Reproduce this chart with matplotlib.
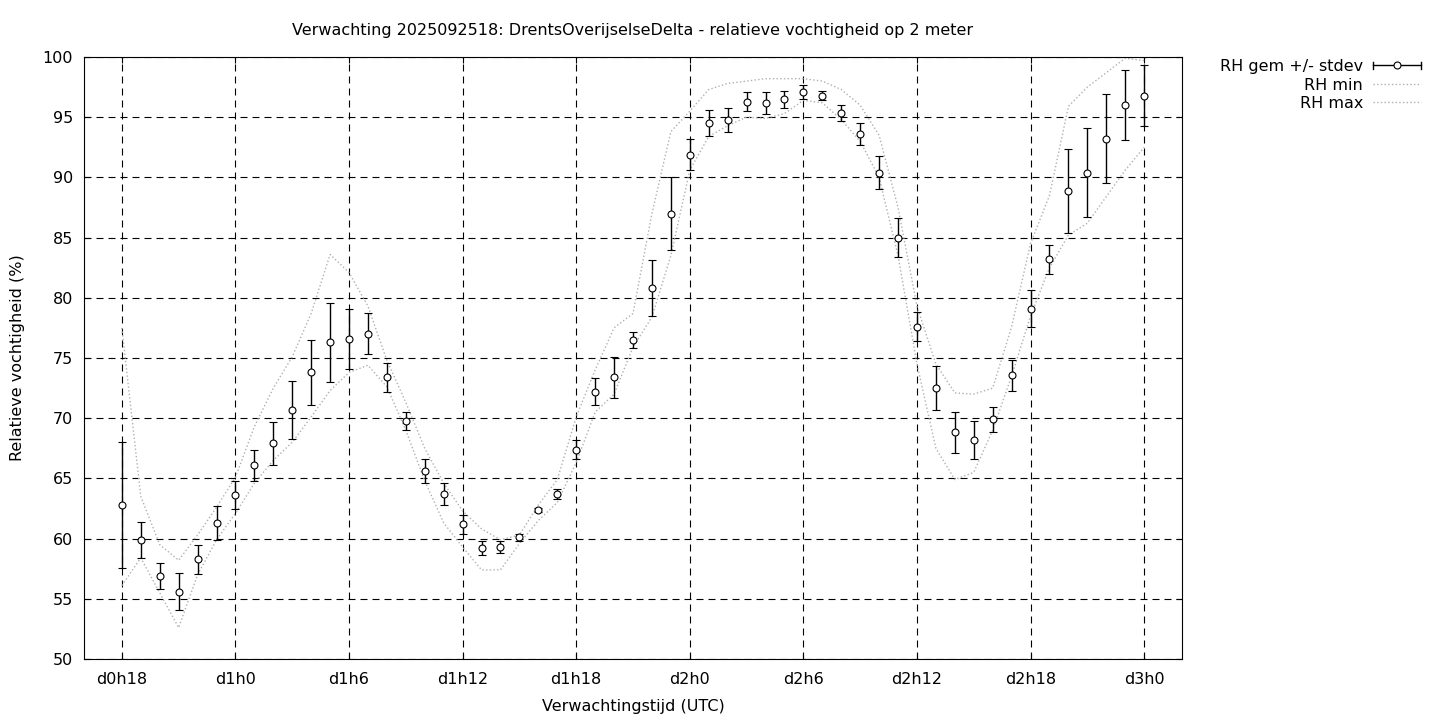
import matplotlib
matplotlib.use("Agg")
import matplotlib.pyplot as plt
from matplotlib.lines import Line2D
from matplotlib.legend_handler import HandlerBase

# ---- data (hours since forecast start) ----
hours = list(range(18, 73))
rh_mean = [62.8, 59.9, 56.9, 55.6, 58.3, 61.3, 63.6, 66.1, 67.9, 70.7,
           73.8, 76.3, 76.6, 77.0, 73.4, 69.8, 65.6, 63.7, 61.2, 59.2,
           59.3, 60.1, 62.4, 63.7, 67.4, 72.2, 73.4, 76.5, 80.8, 87.0,
           91.9, 94.5, 94.8, 96.3, 96.2, 96.5, 97.1, 96.8, 95.35, 93.6,
           90.4, 85.0, 77.6, 72.5, 68.85, 68.2, 69.9, 73.55, 79.1, 83.2,
           88.85, 90.4, 93.2, 96.0, 96.8]
rh_std = [5.25, 1.5, 1.05, 1.55, 1.2, 1.4, 1.15, 1.3, 1.8, 2.4,
          2.7, 3.3, 2.5, 1.7, 1.2, 0.75, 1.0, 0.9, 0.8, 0.6,
          0.5, 0.3, 0.15, 0.4, 0.75, 1.1, 1.7, 0.7, 2.3, 3.0,
          1.3, 1.1, 1.0, 0.8, 0.9, 0.7, 0.6, 0.35, 0.7, 0.9,
          1.4, 1.6, 1.2, 1.85, 1.7, 1.6, 1.05, 1.3, 1.55, 1.2,
          3.5, 3.7, 3.7, 2.9, 2.55]
rh_min = [56.1, 58.4, 55.5, 52.6, 57.0, 59.9, 62.1, 64.6, 66.5, 68.0,
          70.1, 72.3, 73.8, 74.4, 72.6, 69.0, 64.8, 61.3, 59.3, 57.4,
          57.4, 59.6, 61.5, 63.0, 66.3, 70.5, 72.0, 75.9, 78.4, 83.5,
          90.6, 93.4, 94.3, 95.0, 94.9, 95.3, 96.4, 96.2, 94.8, 93.0,
          90.0, 83.5, 74.5, 67.5, 64.9, 65.5, 69.0, 73.5, 78.5, 82.5,
          85.2, 86.2, 88.4, 90.6, 92.5]
rh_max = [77.5, 63.5, 59.5, 58.2, 60.3, 62.6, 65.1, 69.3, 72.5, 75.1,
          78.7, 83.6, 82.1, 79.3, 74.8, 71.3, 67.5, 64.6, 62.3, 60.8,
          59.9, 60.3, 62.8, 64.9, 70.1, 74.0, 77.5, 78.7, 87.0, 93.8,
          95.5, 97.3, 97.8, 98.0, 98.2, 98.2, 98.2, 98.0, 97.3, 96.0,
          93.5, 87.5, 79.3, 74.5, 72.1, 72.0, 72.5, 77.6, 84.5, 88.5,
          95.9, 97.5, 98.7, 99.9, 99.7]

xtick_pos = [18, 24, 30, 36, 42, 48, 54, 60, 66, 72]
xtick_labels = ["d0h18", "d1h0", "d1h6", "d1h12", "d1h18",
                "d2h0", "d2h6", "d2h12", "d2h18", "d3h0"]
ytick_pos = [50, 55, 60, 65, 70, 75, 80, 85, 90, 95, 100]

FS = 11.5
plt.rcParams['font.family'] = ['DejaVu Sans']
plt.rcParams['font.size'] = FS

fig = plt.figure(figsize=(14.4, 7.2), dpi=100)
ax = fig.add_axes([84/1440, 1-659/720, (1182-84)/1440, (659-57)/720])

ax.set_xlim(16, 74)
ax.set_ylim(50, 100)

ax.set_xticks(xtick_pos)
ax.set_xticklabels(xtick_labels)
ax.set_yticks(ytick_pos)

ax.grid(True, color='black', linestyle=(0, (6.3, 4.5)), linewidth=0.8)
ax.set_axisbelow(True)

ax.plot(hours, rh_min, linestyle=':', color='#b0b0b0', linewidth=1.0)
ax.plot(hours, rh_max, linestyle=':', color='#b0b0b0', linewidth=1.0)

ax.errorbar(hours, rh_mean, yerr=rh_std, fmt='o', color='black',
            ms=5, mfc='white', mec='black', mew=0.8,
            ecolor='black', elinewidth=1.0, capsize=3, capthick=1.0, zorder=3)

for s in ax.spines.values():
    s.set_linewidth(0.8)
ax.tick_params(direction='in', length=4, width=0.8, top=True, right=True,
               labelsize=FS)
ax.tick_params(axis='x', pad=9)
ax.tick_params(axis='y', pad=8)

fig.text(633/1440, 1-31/720,
         "Verwachting 2025092518: DrentsOverijselseDelta - relatieve vochtigheid op 2 meter",
         ha='center', va='center', fontsize=FS)
fig.text(18/1440, 1-358/720, "Relatieve vochtigheid (%)", rotation=90,
         ha='center', va='center', fontsize=FS)
fig.text(633/1440, 1-707/720, "Verwachtingstijd (UTC)", ha='center',
         va='center', fontsize=FS)


class HandlerGnuErr(HandlerBase):
    def create_artists(self, legend, orig_handle, xdescent, ydescent,
                       width, height, fontsize, trans):
        y = (height - ydescent) / 2
        x0 = -xdescent
        x1 = -xdescent + width
        ch = height * 0.32
        arts = [
            Line2D([x0, x1], [y, y], color='black', lw=1.0, transform=trans),
            Line2D([x0, x0], [y - ch, y + ch], color='black', lw=1.0, transform=trans),
            Line2D([x1, x1], [y - ch, y + ch], color='black', lw=1.0, transform=trans),
            Line2D([(x0 + x1) / 2], [y], marker='o', ms=5, mfc='white',
                   mec='black', mew=0.8, linestyle='none', transform=trans),
        ]
        return arts


h_err = Line2D([], [], color='black')
h_min = Line2D([], [], linestyle=':', color='#b0b0b0', linewidth=1.0)
h_max = Line2D([], [], linestyle=':', color='#b0b0b0', linewidth=1.0)
fig.legend([h_err, h_min, h_max], ["RH gem +/- stdev", "RH min", "RH max"],
           handler_map={h_err: HandlerGnuErr()},
           loc='upper right', bbox_to_anchor=(1421/1440, 1-59/720),
           frameon=False, markerfirst=False, borderpad=0, borderaxespad=0,
           handlelength=3.0, handletextpad=0.63, labelspacing=0.22,
           fontsize=FS)

fig.savefig("out.png", dpi=100)
